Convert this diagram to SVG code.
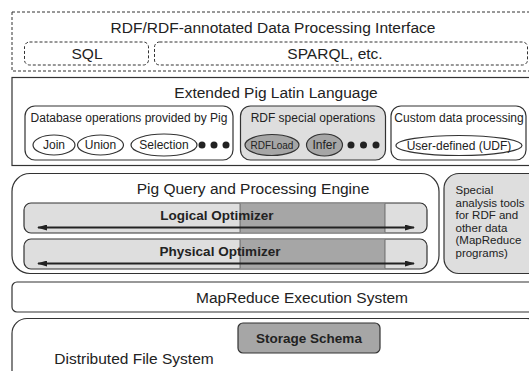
<svg xmlns="http://www.w3.org/2000/svg" width="529" height="371" viewBox="0 0 529 371">
<style>
text{font-family:"Liberation Sans",Arial,sans-serif;fill:#222;text-anchor:middle;dominant-baseline:central}
.box{fill:#fff;stroke:#333;stroke-width:1.2}
.dash{fill:#fff;stroke:#333;stroke-width:1;stroke-dasharray:3,2}
.lg{fill:#dedede;stroke:#333;stroke-width:1.2}
.dk{fill:#a6a6a6;stroke:#333;stroke-width:1.2}
.ell{fill:#fff;stroke:#333;stroke-width:1.2}
.h{font-size:15.5px}
.s{font-size:12px}
.sp{font-size:11.5px;text-anchor:start}
.b{font-size:13.5px;font-weight:bold}
.dot{fill:#222}
.arr{stroke:#222;stroke-width:2;marker-start:url(#ah);marker-end:url(#ah)}
</style>
<defs>
<marker id="ah" viewBox="0 0 10 6" refX="9" refY="3" markerWidth="5" markerHeight="3" orient="auto-start-reverse" markerUnits="strokeWidth">
<path d="M0,0 L10,3 L0,6 Z" fill="#222"/>
</marker>
</defs>
<rect width="529" height="371" fill="#fff"/>

<g id="interface">
<rect class="dash" x="12" y="12" width="530" height="59"/>
<text class="h" x="273" y="27">RDF/RDF-annotated Data Processing Interface</text>
</g>
<g id="sql">
<rect class="dash" x="24.5" y="42" width="124" height="23" rx="5"/>
<text class="h" x="87" y="53.5">SQL</text>
</g>
<g id="sparql">
<rect class="dash" x="154.5" y="42" width="373" height="23" rx="5"/>
<text class="h" x="335" y="53.5">SPARQL, etc.</text>
</g>

<g id="pig-latin">
<rect class="box" x="12" y="77.5" width="530" height="88"/>
<text class="h" x="276" y="92">Extended Pig Latin Language</text>
</g>
<g id="db-ops">
<rect class="box" x="25" y="106" width="208" height="54" rx="10"/>
<text class="s" x="129" y="118">Database operations provided by Pig</text>
<ellipse class="ell" cx="54" cy="145" rx="21" ry="10"/>
<text class="s" x="54" y="145">Join</text>
<ellipse class="ell" cx="100.5" cy="145" rx="23" ry="10"/>
<text class="s" x="100.5" y="145">Union</text>
<ellipse class="ell" cx="164" cy="145" rx="33" ry="11"/>
<text class="s" x="164" y="145">Selection</text>
<circle class="dot" cx="202" cy="145" r="3.5"/>
<circle class="dot" cx="214" cy="145" r="3.5"/>
<circle class="dot" cx="226" cy="145" r="3.5"/>
</g>
<g id="rdf-ops">
<rect class="lg" x="240.5" y="106" width="145" height="54" rx="10"/>
<text class="s" x="313" y="118">RDF special operations</text>
<ellipse class="dk" cx="272" cy="145" rx="27" ry="10.5"/>
<text x="272" y="145" style="font-size:10px">RDFLoad</text>
<ellipse class="dk" cx="324.5" cy="145" rx="18" ry="11"/>
<text class="s" x="324.5" y="145">Infer</text>
<circle class="dot" cx="351" cy="145" r="3.5"/>
<circle class="dot" cx="363.5" cy="145" r="3.5"/>
<circle class="dot" cx="376" cy="145" r="3.5"/>
</g>
<g id="custom">
<rect class="box" x="391" y="106" width="135" height="54" rx="10"/>
<text class="s" x="459" y="118">Custom data processing</text>
<ellipse class="ell" cx="459" cy="145.5" rx="63" ry="10"/>
<text class="s" x="459" y="145.5">User-defined (UDF)</text>
</g>

<g id="engine">
<rect class="box" x="12" y="173.5" width="427" height="100" rx="18"/>
<text class="h" x="253" y="188">Pig Query and Processing Engine</text>
</g>
<g id="logical">
<rect class="lg" x="24" y="203" width="403" height="30" rx="7"/>
<rect x="240" y="203.6" width="145" height="28.8" fill="#a6a6a6"/>
<line x1="240" y1="203.6" x2="240" y2="232.4" stroke="#555" stroke-width="0.8"/>
<line x1="385" y1="203.6" x2="385" y2="232.4" stroke="#555" stroke-width="0.8"/>
<text class="b" x="217" y="215">Logical Optimizer</text>
</g>
<g id="physical">
<rect class="lg" x="24" y="239" width="403" height="30" rx="7"/>
<rect x="240" y="239.6" width="145" height="28.8" fill="#a6a6a6"/>
<line x1="240" y1="239.6" x2="240" y2="268.4" stroke="#555" stroke-width="0.8"/>
<line x1="385" y1="239.6" x2="385" y2="268.4" stroke="#555" stroke-width="0.8"/>
<text class="b" x="220" y="251.5">Physical Optimizer</text>
</g>
<g id="special">
<rect class="lg" x="444" y="173.5" width="100" height="100" rx="15"/>
<text class="sp" x="455.5" y="190">Special</text>
<text class="sp" x="455.5" y="202.5">analysis tools</text>
<text class="sp" x="455.5" y="215">for RDF and</text>
<text class="sp" x="455.5" y="227.5">other data</text>
<text class="sp" x="455.5" y="240">(MapReduce</text>
<text class="sp" x="455.5" y="252.5">programs)</text>
</g>

<g id="mapreduce">
<rect class="box" x="12" y="282" width="530" height="30" rx="5"/>
<text class="h" x="302" y="297.5">MapReduce Execution System</text>
</g>
<g id="dfs">
<rect class="box" x="12" y="318.5" width="530" height="70" rx="15"/>
<text class="h" x="134" y="358">Distributed File System</text>
</g>
<g id="storage">
<rect class="dk" x="238" y="323" width="142" height="30" rx="5"/>
<text class="b" x="309" y="338.5">Storage Schema</text>
</g>

<g id="connectors">
<line class="arr" x1="38" y1="227.5" x2="414" y2="227.5"/>
<line class="arr" x1="38" y1="263.5" x2="414" y2="263.5"/>
</g>
</svg>
